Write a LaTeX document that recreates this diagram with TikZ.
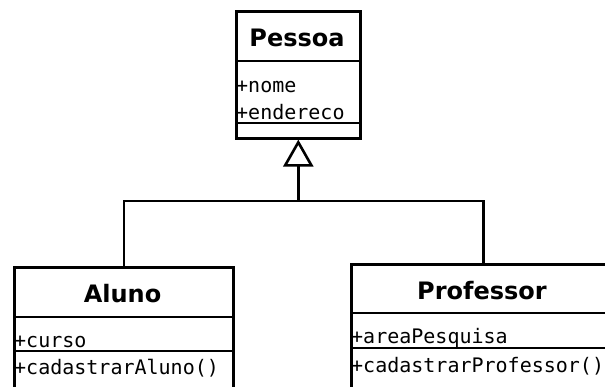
\documentclass[tikz,border=0pt]{standalone}
\usepackage{fontspec}
\setmainfont{DejaVu Sans}
\newfontfamily\umlmono{DejaVu Sans Mono}
\usetikzlibrary{arrows.meta}
\begin{document}
\begin{tikzpicture}[x=1pt,y=-1pt,
  classbox/.style={draw,line width=2.6pt,anchor=north west,inner sep=0pt,fill=white},
  sepline/.style={line width=2.2pt},
  title/.style={font=\fontsize{24}{24}\selectfont\bfseries,anchor=base,inner sep=0pt},
  member/.style={font=\fontsize{20}{20}\selectfont\umlmono,anchor=base west,inner sep=0pt},
  link/.style={line width=2.6pt},
  inherit/.style={link,-{Triangle[open,width=30pt,length=27pt,line width=2.6pt,fill=white]}}]
\useasboundingbox (0,0) rectangle (605,386);
\clip (0,0) rectangle (605,386);

% class boxes
\node[classbox,minimum width=124pt,minimum height=127pt] (pessoa) at (235,10) {};
\node[classbox,minimum width=219pt,minimum height=130pt] (aluno) at (13,266) {};
\node[classbox,minimum width=264pt,minimum height=130pt] (prof) at (350,263) {};

% compartment separators
\draw[sepline] (235,61) -- (359,61);
\draw[sepline] (235,123) -- (359,123);
\draw[sepline] (13,317) -- (232,317);
\draw[sepline] (13,351) -- (232,351);
\draw[sepline] (350,313) -- (614,313);
\draw[sepline] (350,348) -- (614,348);

% titles
\node[title] (tpessoa) at (297,46) {Pessoa};
\node[title] (taluno) at (122.5,302) {Aluno};
\node[title] (tprof) at (482,299) {Professor};

% members
\node[member] (pnome) at (236,92) {+nome};
\node[member] (pend) at (236,119) {+endereco};
\node[member] (acurso) at (14,347) {+curso};
\node[member] (acad) at (14,374) {+cadastrarAluno()};
\node[member] (parea) at (351,343) {+areaPesquisa};
\node[member] (pcad) at (351,372) {+cadastrarProfessor()};

% generalization
\coordinate (junc) at (pessoa.south |- 0,201);
\draw[link] (aluno.north) |- (junc) -| (prof.north);
\draw[inherit] (junc) -- (pessoa.south);
\end{tikzpicture}
\end{document}
